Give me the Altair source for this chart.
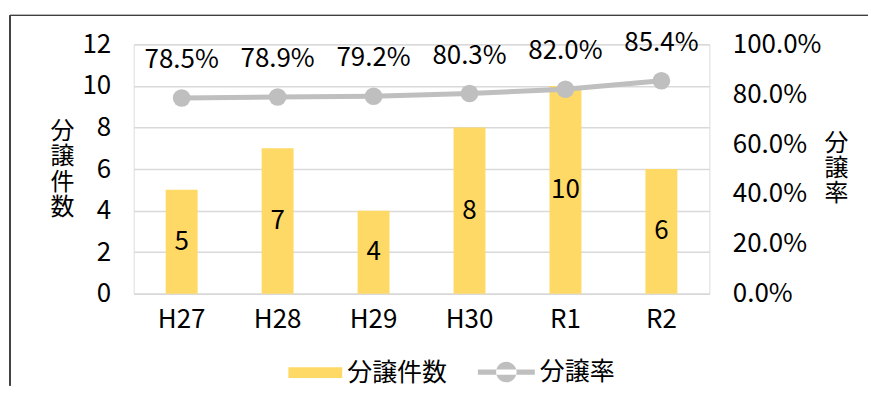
import altair as alt
import pandas as pd

# ---- data ----
categories = ["H27", "H28", "H29", "H30", "R1", "R2"]
counts = [5, 7, 4, 8, 10, 6]
rates = [0.785, 0.789, 0.792, 0.803, 0.820, 0.854]
count_label = "分譲件数"
rate_label = "分譲率"
count_ticks = [0, 2, 4, 6, 8, 10, 12]
rate_ticks = [0, 0.2, 0.4, 0.6, 0.8, 1.0]

df = pd.DataFrame({
    "cat": categories,
    "count": counts,
    "rate": rates,
    "s1": [count_label] * len(categories),
    "s2": [rate_label] * len(categories),
})

NUM_FONT = "Noto Sans CJK JP, sans-serif"
CJK_FONT = "Noto Sans CJK JP, sans-serif"
BAR_COLOR = "#FFD966"
LINE_COLOR = "#BFBFBF"
GRID_COLOR = "#D9D9D9"
FS = 26

base = alt.Chart(df)

x_enc = alt.X(
    "cat:N", sort=categories, title=None,
    scale=alt.Scale(paddingInner=0, paddingOuter=0),
    axis=alt.Axis(labelAngle=0, labelFont=NUM_FONT, labelFontSize=FS, labelColor="black",
                  labelPadding=13, ticks=False, domain=True, domainColor=GRID_COLOR,
                  domainWidth=1.5, grid=False),
)

left_axis = alt.Axis(
    values=count_ticks, grid=True, gridColor=GRID_COLOR, gridWidth=1.5,
    domain=False, ticks=False, labelFont=NUM_FONT, labelFontSize=FS,
    labelColor="black", labelPadding=23,
    title=list(count_label), titleAngle=0, titleFont=CJK_FONT, titleFontSize=24,
    titleFontWeight="normal", titleColor="black", titleAlign="center",
    titleBaseline="middle", titleLineHeight=25.5, titleX=-72, titleY=87,
)
left_scale = alt.Scale(domain=[0, 12])

bars = base.mark_bar(size=32).encode(
    x=x_enc,
    y=alt.Y("count:Q", scale=left_scale, axis=left_axis),
    color=alt.Color("s1:N", scale=alt.Scale(domain=[count_label], range=[BAR_COLOR]),
                    legend=alt.Legend(orient="none", legendX=155, legendY=302, title=None,
                                      symbolType="M-1,-0.2H1V0.2H-1Z", symbolSize=2916,
                                      symbolStrokeWidth=0, labelFont=CJK_FONT,
                                      labelFontSize=25, labelColor="black", labelOffset=5,
                                      padding=0)),
)

bar_text = base.transform_calculate(half="datum.count / 2").mark_text(
    font=NUM_FONT, fontSize=FS, color="black", baseline="middle", align="center"
).encode(
    x=x_enc,
    y=alt.Y("half:Q", scale=left_scale, axis=left_axis),
    text=alt.Text("count:Q"),
)

right_axis = alt.Axis(
    values=rate_ticks, format=".1%", orient="right", grid=False, domain=False,
    ticks=False, labelFont=NUM_FONT, labelFontSize=FS, labelColor="black",
    labelPadding=23,
    title=list(rate_label), titleAngle=0, titleFont=CJK_FONT, titleFontSize=24,
    titleFontWeight="normal", titleColor="black", titleAlign="center",
    titleBaseline="middle", titleLineHeight=25.5, titleX=127, titleY=99,
)
right_scale = alt.Scale(domain=[0, 1])

line = base.mark_line(color=LINE_COLOR, strokeWidth=5).encode(
    x=x_enc,
    y=alt.Y("rate:Q", scale=right_scale, axis=right_axis),
)

points = base.mark_point(filled=True, size=314, opacity=1).encode(
    x=x_enc,
    y=alt.Y("rate:Q", scale=right_scale, axis=right_axis),
    color=alt.Color("s2:N", scale=alt.Scale(domain=[rate_label], range=[LINE_COLOR]),
                    legend=alt.Legend(orient="none", legendX=345, legendY=300, title=None,
                                      symbolType="M-1,-0.09H1V0.09H-1Z M-0.36,0A0.36,0.36 0 1,0 0.36,0A0.36,0.36 0 1,0 -0.36,0Z",
                                      symbolSize=3249, symbolStrokeWidth=0,
                                      labelFont=CJK_FONT, labelFontSize=25,
                                      labelColor="black", labelOffset=5, padding=0)),
)

point_text = base.mark_text(
    font=NUM_FONT, fontSize=FS, color="black", baseline="middle", align="center", dy=-38
).encode(
    x=x_enc,
    y=alt.Y("rate:Q", scale=right_scale, axis=right_axis),
    text=alt.Text("rate:Q", format=".1%"),
)

frame_top = base.mark_rule(color="#404040", strokeWidth=1).encode(
    x=alt.value(-124), x2=alt.value(736), y=alt.value(-29)
)
frame_left = base.mark_rule(color="#404040", strokeWidth=1).encode(
    x=alt.value(-124), y=alt.value(-29), y2=alt.value(342)
)

left_group = alt.layer(bars, bar_text)
right_group = alt.layer(line, points, point_text)

chart = alt.layer(left_group, right_group, frame_top, frame_left).resolve_scale(
    y="independent", color="independent"
).properties(
    width=577, height=250,
    padding={"left": 1, "top": 6, "right": 0, "bottom": 0},
).configure_view(stroke=None).configure(background="white")

chart.save("out.html", embed_options={"renderer": "svg", "actions": False})
